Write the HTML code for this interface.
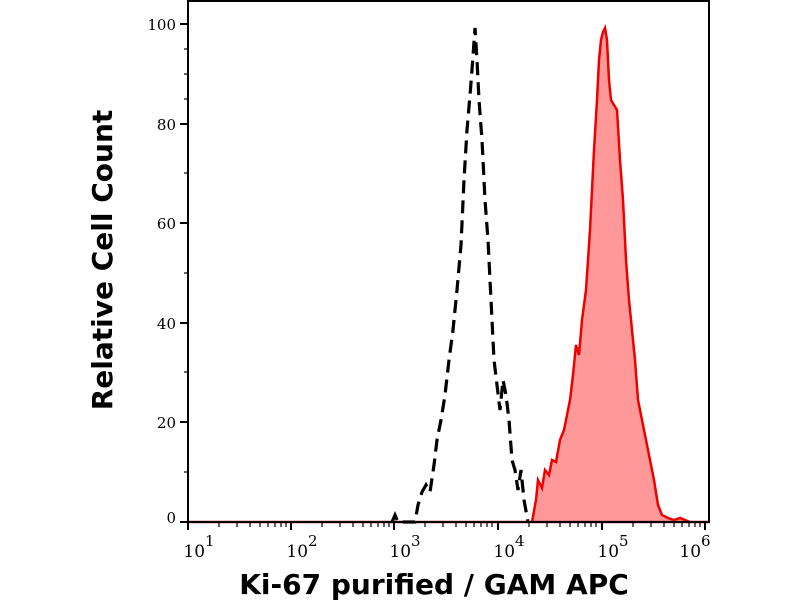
<!DOCTYPE html>
<html><head><style>body{margin:0;background:#fff}</style></head><body>
<svg width="800" height="600" xmlns="http://www.w3.org/2000/svg" font-family="'DejaVu Serif','Liberation Serif',serif">
<rect width="800" height="600" fill="#fff"/>
<polygon fill="#f99" stroke="none" points="532,522 536,500 538,480 542,488 545,470 549,475 552,460 556,462 560,440 564,430 567,415 570,400 573,375 576,345 579,355 582,320 586,290 590,230 594,150 597,100 599,60 601,40 603,32 605,28 607,40 609,80 611,100 614,105 617,110 620,160 623,200 626,260 629,300 632,330 635,360 638,400 642,420 646,440 650,460 654,480 658,505 662,515 668,518 674,520 680,518 690,522"/>
<polyline fill="none" stroke="#e00" stroke-width="2.5" points="532,522 536,500 538,480 542,488 545,470 549,475 552,460 556,462 560,440 564,430 567,415 570,400 573,375 576,345 579,355 582,320 586,290 590,230 594,150 597,100 599,60 601,40 603,32 605,28 607,40 609,80 611,100 614,105 617,110 620,160 623,200 626,260 629,300 632,330 635,360 638,400 642,420 646,440 650,460 654,480 658,505 662,515 668,518 674,520 680,518 690,522"/>
<line x1="188" y1="522" x2="710" y2="522" stroke="#a02020" stroke-width="2.5"/>
<polyline fill="none" stroke="#000" stroke-width="3.2" stroke-dasharray="13 7" points="392,522 395,515 398,522 415,522 418,505 422,492 426,485 430,492 434,465 437,440 441,420 445,395 449,360 453,330 457,290 461,245 464,180 467,130 470,95 472,70 475,28 477,60 479,100 482,140 485,200 488,240 491,300 494,360 497,385 500,410 503,380 506,395 509,420 512,460 515,470 518,490 521,470 524,500 528,522"/>
<rect x="188" y="1" width="521" height="521" fill="none" stroke="#000" stroke-width="2"/>
<g stroke="#000" stroke-width="2">
<line x1="180" y1="522" x2="188" y2="522"/><line x1="180" y1="422" x2="188" y2="422"/><line x1="180" y1="323" x2="188" y2="323"/><line x1="180" y1="223" x2="188" y2="223"/><line x1="180" y1="124" x2="188" y2="124"/><line x1="180" y1="24" x2="188" y2="24"/>
</g>
<g stroke="#000" stroke-width="1.2">
<line x1="184" y1="472" x2="188" y2="472"/><line x1="184" y1="372" x2="188" y2="372"/><line x1="184" y1="273" x2="188" y2="273"/><line x1="184" y1="173" x2="188" y2="173"/><line x1="184" y1="99" x2="188" y2="99"/><line x1="184" y1="74" x2="188" y2="74"/><line x1="184" y1="49" x2="188" y2="49"/>
</g>
<g font-size="15" text-anchor="end" fill="#000">
<text x="176" y="523">0</text><text x="176" y="428">20</text><text x="176" y="329">40</text><text x="176" y="229">60</text><text x="176" y="130">80</text><text x="176" y="30">100</text>
</g>
<g stroke="#000" stroke-width="2">
<line x1="188" y1="522" x2="188" y2="530"/><line x1="291" y1="522" x2="291" y2="530"/><line x1="394" y1="522" x2="394" y2="530"/><line x1="498" y1="522" x2="498" y2="530"/><line x1="602" y1="522" x2="602" y2="530"/><line x1="705" y1="522" x2="705" y2="530"/>
</g>
<g stroke="#000" stroke-width="1.2" id="minor">
<line x1="219" y1="522" x2="219" y2="527"/><line x1="237" y1="522" x2="237" y2="527"/><line x1="250" y1="522" x2="250" y2="527"/><line x1="260" y1="522" x2="260" y2="527"/><line x1="268" y1="522" x2="268" y2="527"/><line x1="275" y1="522" x2="275" y2="527"/><line x1="281" y1="522" x2="281" y2="527"/><line x1="286" y1="522" x2="286" y2="527"/>
</g>
<use href="#minor" x="103"/><use href="#minor" x="206"/><use href="#minor" x="310"/><use href="#minor" x="414"/>
<g font-size="17" fill="#000" text-anchor="middle">
<text x="199" y="557">10<tspan font-size="15" dy="-11">1</tspan></text>
<text x="302" y="557">10<tspan font-size="15" dy="-11">2</tspan></text>
<text x="405" y="557">10<tspan font-size="15" dy="-11">3</tspan></text>
<text x="509" y="557">10<tspan font-size="15" dy="-11">4</tspan></text>
<text x="613" y="557">10<tspan font-size="15" dy="-11">5</tspan></text>
<text x="695" y="557">10<tspan font-size="15" dy="-11">6</tspan></text>
</g>
<text x="434" y="594" font-family="'DejaVu Sans','Liberation Sans',sans-serif" font-weight="bold" font-size="28" text-anchor="middle">Ki-67 purified / GAM APC</text>
<text transform="translate(112,260) rotate(-90)" font-family="'DejaVu Sans','Liberation Sans',sans-serif" font-weight="bold" font-size="28" text-anchor="middle">Relative Cell Count</text>
</svg>
</body></html>
